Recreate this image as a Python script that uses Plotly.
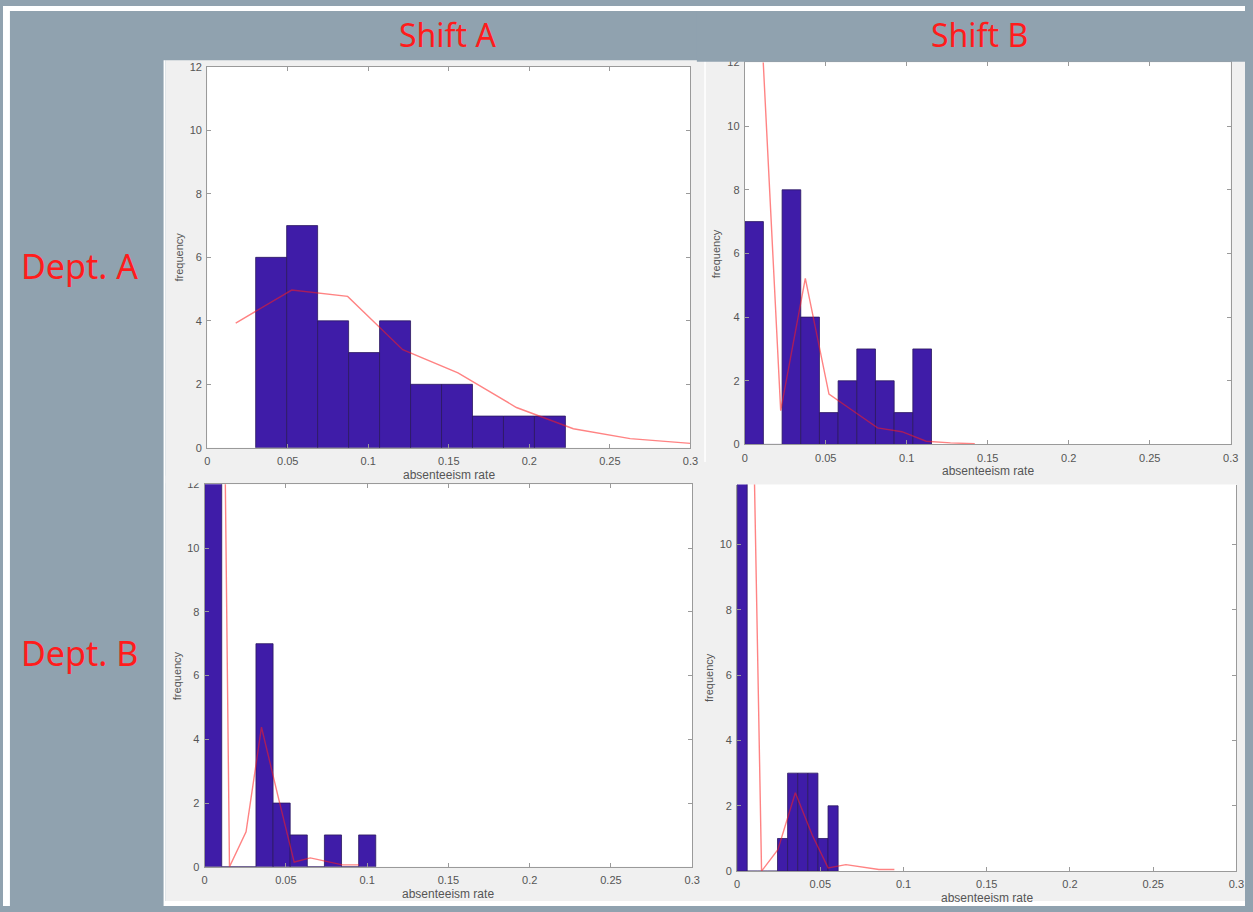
import plotly.graph_objects as go

FIG_W, FIG_H = 1253, 912

# ---------------- data ----------------
shift_names = ["Shift A", "Shift B"]
dept_names = ["Dept. A", "Dept. B"]
x_label = "absenteeism rate"
y_label = "frequency"
x_ticks = [0, 0.05, 0.1, 0.15, 0.2, 0.25, 0.3]
x_tick_text = ["0", "0.05", "0.1", "0.15", "0.2", "0.25", "0.3"]
y_ticks = [0, 2, 4, 6, 8, 10, 12]
y_tick_text = ["0", "2", "4", "6", "8", "10", "12"]

# Dept. A, Shift A
aa_bin_start = 0.0301
aa_bin_width = 0.01923
aa_counts = [6, 7, 4, 3, 4, 2, 2, 1, 1, 1]
aa_curve_x = [0.0177, 0.0525, 0.0872, 0.1214, 0.1557, 0.192, 0.2273, 0.2626, 0.300]
aa_curve_y = [3.93, 4.97, 4.77, 3.09, 2.36, 1.27, 0.60, 0.29, 0.14]

# Dept. A, Shift B
ab_bin_start = 0.0
ab_bin_width = 0.01153
ab_counts = [7, 0, 8, 4, 1, 2, 3, 2, 1, 3]
ab_curve_x = [0.0072, 0.0222, 0.0374, 0.052, 0.067, 0.082, 0.097, 0.112, 0.127, 0.142]
ab_curve_y = [16.3, 1.06, 5.22, 1.58, 1.05, 0.52, 0.40, 0.10, 0.05, 0.02]

# Dept. B, Shift A
ba_bin_start = 0.0
ba_bin_width = 0.01053
ba_counts = [20, 0, 0, 7, 2, 1, 0, 1, 0, 1]
ba_curve_x = [0.0051, 0.0153, 0.0255, 0.035, 0.045, 0.0551, 0.065, 0.075, 0.0848, 0.095]
ba_curve_y = [48.0, 0.0, 1.1, 4.38, 2.25, 0.15, 0.28, 0.17, 0.06, 0.06]

# Dept. B, Shift B
bb_bin_start = 0.0
bb_bin_width = 0.00607
bb_counts = [26, 0, 0, 0, 1, 3, 3, 3, 1, 2]
bb_curve_x = [0.0045, 0.0147, 0.0245, 0.035, 0.0452, 0.0547, 0.0654, 0.075, 0.0852, 0.0945]
bb_curve_y = [28.6, 0.0, 0.66, 2.4, 1.1, 0.10, 0.20, 0.12, 0.05, 0.05]

panels = [
    (aa_bin_start, aa_bin_width, aa_counts, aa_curve_x, aa_curve_y),
    (ab_bin_start, ab_bin_width, ab_counts, ab_curve_x, ab_curve_y),
    (ba_bin_start, ba_bin_width, ba_counts, ba_curve_x, ba_curve_y),
    (bb_bin_start, bb_bin_width, bb_counts, bb_curve_x, bb_curve_y),
]

# ---------------- layout geometry (pixels) ----------------
# plot box: left, right, top, bottom ; upper end of the y range ; draw top frame
boxes = [
    (206.0, 693.5, 61.7, 447.7, 12.0, True),
    (748.3, 1238.6, 57.2, 444.3, 12.0, True),
    (203.4, 695.3, 484.7, 872.3, 12.0, True),
    (740.6, 1244.3, 485.0, 876.7, 11.83, False),
]

SLATE = "#90a2af"
PANEL = "#f0f0f0"
BAR = "#3f1ca8"
BAR_EDGE = "#2b1860"
CURVE = "rgba(255,30,30,0.55)"
FRAME = "#9a9a9a"
TICK_FONT = dict(family="Liberation Sans, Arial, sans-serif", size=11, color="#555555")
HEAD_FONT = "Noto Sans, sans-serif"
RED = "#ff1c1c"


def px_x(v):
    return v / FIG_W


def px_y(v):
    return 1 - v / FIG_H


fig = go.Figure()
layout = dict(
    width=FIG_W,
    height=FIG_H,
    margin=dict(l=0, r=0, t=0, b=0),
    paper_bgcolor=SLATE,
    plot_bgcolor="white",
    showlegend=False,
)

shapes = [
    # light grey backdrop behind the four plots
    dict(type="rect", xref="paper", yref="paper", x0=px_x(164), x1=1,
         y0=px_y(907), y1=px_y(55), fillcolor=PANEL, line_width=0, layer="below"),
    # thin white separators
    dict(type="rect", xref="paper", yref="paper", x0=px_x(162), x1=px_x(164),
         y0=px_y(912), y1=px_y(55), fillcolor="white", line_width=0, layer="below"),
    dict(type="rect", xref="paper", yref="paper", x0=px_x(707.5), x1=px_x(709),
         y0=px_y(462), y1=px_y(55), fillcolor="white", line_width=0, layer="below"),
]

annotations = []

for i, ((start, width, counts, cx, cy), (l, r, t, b, ytop, top_frame)) in enumerate(zip(panels, boxes)):
    k = "" if i == 0 else str(i + 1)
    xa, ya = "x" + k, "y" + k
    centers = [start + width * (j + 0.5) for j in range(len(counts))]
    fig.add_trace(go.Bar(
        x=centers, y=counts, width=width, xaxis=xa, yaxis=ya,
        marker=dict(color=BAR, line=dict(color=BAR_EDGE, width=0.8)),
        hoverinfo="skip",
    ))
    fig.add_trace(go.Scatter(
        x=cx, y=cy, mode="lines", xaxis=xa, yaxis=ya,
        line=dict(color=CURVE, width=1.4), hoverinfo="skip",
    ))
    layout["xaxis" + k] = dict(
        domain=[px_x(l), px_x(r)], anchor=ya, range=[0, 0.3],
        tickmode="array", tickvals=x_ticks, ticktext=x_tick_text,
        ticks="inside", ticklen=4, tickcolor=FRAME, tickwidth=1,
        showline=True, linecolor=FRAME, linewidth=1,
        mirror="ticks" if top_frame else False,
        showgrid=False, zeroline=False, tickfont=TICK_FONT,
        ticklabelstandoff=3, fixedrange=True,
    )
    layout["yaxis" + k] = dict(
        domain=[px_y(b), px_y(t)], anchor=xa, range=[0, ytop],
        tickmode="array", tickvals=y_ticks, ticktext=y_tick_text,
        ticks="inside", ticklen=4, tickcolor=FRAME, tickwidth=1,
        showline=True, linecolor=FRAME, linewidth=1, mirror="ticks",
        showgrid=False, zeroline=False, tickfont=TICK_FONT,
        ticklabelstandoff=2, fixedrange=True,
    )
    # white plotting area on top of the grey backdrop
    shapes.append(dict(type="rect", xref=xa + " domain", yref=ya + " domain",
                       x0=0, x1=1, y0=0, y1=1, fillcolor="white",
                       line_width=0, layer="below"))
    annotations.append(dict(
        text=x_label, xref=xa + " domain", yref=ya + " domain", x=0.5, y=0,
        yshift=-27, xanchor="center", yanchor="middle", showarrow=False,
        font=dict(family=TICK_FONT["family"], size=12, color="#555555"),
    ))
    annotations.append(dict(
        text=y_label, xref=xa + " domain", yref=ya + " domain", x=0, y=0.5,
        xshift=-28, xanchor="center", yanchor="middle", textangle=-90,
        showarrow=False,
        font=dict(family=TICK_FONT["family"], size=11, color="#555555"),
    ))

# column and row headers
for name, xc in zip(shift_names, [448, 985]):
    annotations.append(dict(
        text=name, xref="paper", yref="paper", x=px_x(xc), y=px_y(29),
        xanchor="center", yanchor="middle", showarrow=False,
        font=dict(family=HEAD_FONT, size=32, color=RED),
    ))
for name, yc in zip(dept_names, [263, 656]):
    annotations.append(dict(
        text=name, xref="paper", yref="paper", x=px_x(77), y=px_y(yc),
        xanchor="center", yanchor="middle", showarrow=False,
        font=dict(family=HEAD_FONT, size=34, color=RED),
    ))

# header band overlapping the top of the upper-right plot, and the
# cropped edge above the lower-left plot's top tick label
shapes += [
    dict(type="rect", xref="paper", yref="paper", x0=px_x(700), x1=1,
         y0=px_y(56.5), y1=1, fillcolor=SLATE, line_width=0, layer="above"),
    dict(type="rect", xref="paper", yref="paper", x0=px_x(164), x1=px_x(202),
         y0=px_y(483.5), y1=px_y(476), fillcolor=PANEL, line_width=0, layer="above"),
]

# white outer edges
shapes += [
    dict(type="rect", xref="paper", yref="paper", x0=0, x1=1, y0=px_y(5), y1=1,
         fillcolor="white", line_width=0, layer="above"),
    dict(type="rect", xref="paper", yref="paper", x0=0, x1=px_x(7), y0=0, y1=1,
         fillcolor="white", line_width=0, layer="above"),
    dict(type="rect", xref="paper", yref="paper", x0=px_x(163), x1=1, y0=0, y1=px_y(907),
         fillcolor="white", line_width=0, layer="above"),
]

layout["shapes"] = shapes
layout["annotations"] = annotations
fig.update_layout(**layout)
fig.write_html("out.html", config={"displayModeBar": False})
